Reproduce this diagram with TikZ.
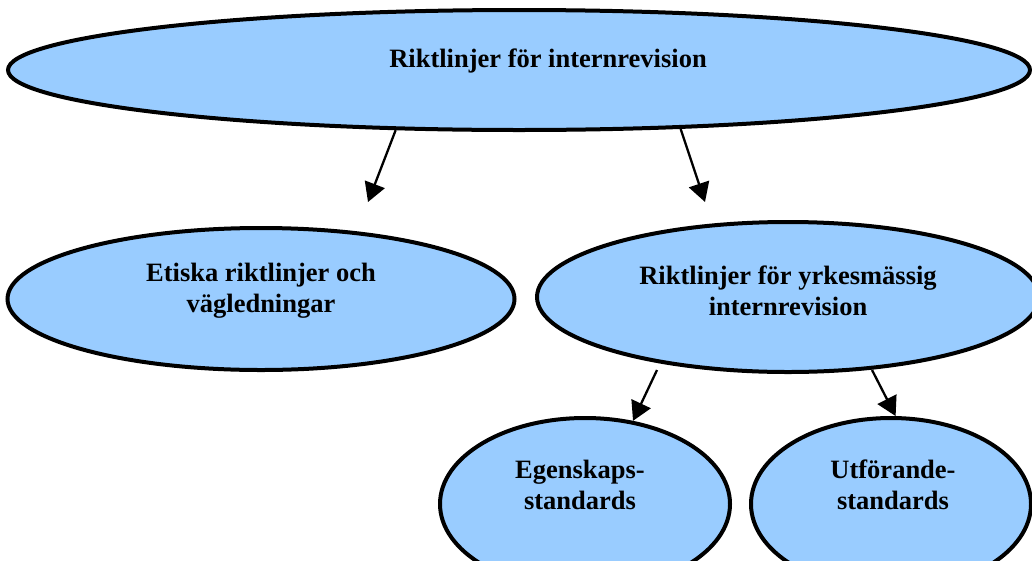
\documentclass[tikz,border=0pt]{standalone}
\usepackage{fontspec}
\setmainfont{Liberation Serif}
\usetikzlibrary{shapes.geometric,arrows.meta}
\definecolor{skyfill}{HTML}{99CCFF}
\begin{document}
\begin{tikzpicture}[x=1pt,y=-1pt,
  bubble/.style={ellipse, draw=black, line width=4pt, fill=skyfill, inner sep=0pt},
  txt/.style={align=center, inner sep=0pt, font=\bfseries\fontsize{26.5}{31}\selectfont},
  arr/.style={line width=2.3pt, -{Triangle[length=19pt,width=21pt]}}]
\useasboundingbox (0,0) rectangle (1032,560);
\clip (0,0) rectangle (1032,560);

% ellipses
\node[bubble, minimum width=1022pt, minimum height=120pt] (top) at (519,70) {};
\node[bubble, minimum width=507pt, minimum height=142pt] (eti) at (261,299) {};
\node[bubble, minimum width=502pt, minimum height=150pt] (yrk) at (788,297) {};
\node[bubble, minimum width=290pt, minimum height=172pt] (ege) at (585,504) {};
\node[bubble, minimum width=280pt, minimum height=172pt] (utf) at (891,504) {};

% texts
\node[txt] (topt) at (548,61) {Riktlinjer för internrevision};
\node[txt] (etit) at (261,291) {Etiska riktlinjer och\\vägledningar};
\node[txt] (yrkt) at (788,291) {Riktlinjer för yrkesmässig\\internrevision};
\node[txt] (eget) at (580,485) {Egenskaps-\\standards};
\node[txt] (utft) at (893,485) {Utförande-\\standards};

% connectors
\coordinate (t1) at (368,202);
\coordinate (t2) at (705,202);
\coordinate (s3) at (657,370);
\coordinate (s4) at (872,370);
\draw[arr] (top.206.5) -- (t1);
\draw[arr] (top.340.5) -- (t2);
\draw[arr] (s3) -- (ege.60);
\draw[arr] (s4) -- (utf.87);
\end{tikzpicture}
\end{document}
